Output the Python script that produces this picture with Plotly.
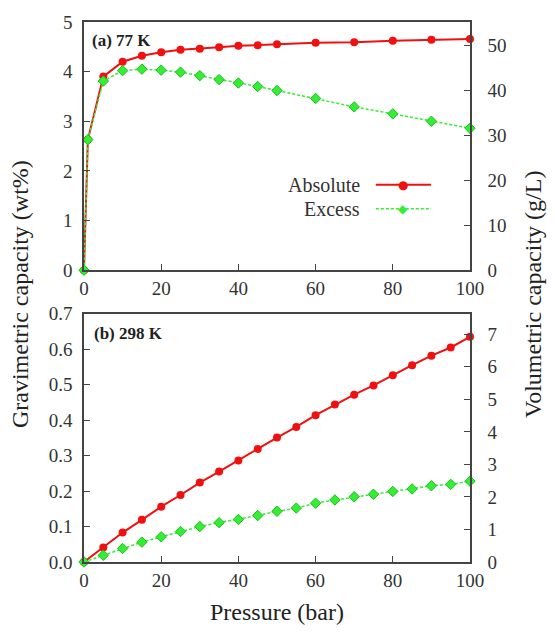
import plotly.graph_objects as go

# ---- data ----
pressure_77 = [0, 1, 5, 10, 15, 20, 25, 30, 35, 40, 45, 50, 60, 70, 80, 90, 100]
absolute_77 = [0, 2.63, 3.90, 4.20, 4.32, 4.39, 4.44, 4.46, 4.49, 4.52, 4.53, 4.55, 4.58, 4.59, 4.62, 4.64, 4.66]
excess_77 = [0, 2.63, 3.81, 4.02, 4.05, 4.03, 3.99, 3.92, 3.84, 3.77, 3.70, 3.62, 3.46, 3.29, 3.15, 3.00, 2.86]

pressure_298 = [0, 5, 10, 15, 20, 25, 30, 35, 40, 45, 50, 55, 60, 65, 70, 75, 80, 85, 90, 95, 100]
absolute_298 = [0, 0.041, 0.083, 0.119, 0.156, 0.189, 0.224, 0.255, 0.286, 0.319, 0.351,
                0.381, 0.414, 0.444, 0.472, 0.498, 0.527, 0.555, 0.582, 0.605, 0.635]
excess_298 = [0, 0.019, 0.038, 0.056, 0.071, 0.086, 0.100, 0.111, 0.120, 0.131, 0.143,
              0.152, 0.166, 0.175, 0.184, 0.191, 0.199, 0.206, 0.215, 0.219, 0.228]

series_names = ["Absolute", "Excess"]
panel_labels = ["(a) 77 K", "(b) 298 K"]

RED = "#f01010"
GREEN = "#33ee33"
GREEN_EDGE = "#22bb22"
AXC = "#444444"
FONT = "Times New Roman, Liberation Serif, serif"

fig = go.Figure()

def add_pair(x, ya, ye, xa, yax):
    fig.add_trace(go.Scatter(x=x, y=ya, mode="lines+markers", name=series_names[0],
                             line=dict(color=RED, width=2),
                             marker=dict(symbol="circle", size=8, color=RED),
                             xaxis=xa, yaxis=yax, showlegend=False, cliponaxis=False))
    fig.add_trace(go.Scatter(x=x, y=ye, mode="lines+markers", name=series_names[1],
                             line=dict(color=GREEN, width=1.5, dash="3px,2px"),
                             marker=dict(symbol="diamond", size=8, color=GREEN,
                                         line=dict(color=GREEN_EDGE, width=1)),
                             xaxis=xa, yaxis=yax, showlegend=False, cliponaxis=False))

add_pair(pressure_77, absolute_77, excess_77, "x2", "y2")
add_pair(pressure_298, absolute_298, excess_298, "x", "y")

# invisible traces to keep right axes active
fig.add_trace(go.Scatter(x=[None], y=[None], xaxis="x2", yaxis="y3", showlegend=False, hoverinfo="skip"))
fig.add_trace(go.Scatter(x=[None], y=[None], xaxis="x", yaxis="y4", showlegend=False, hoverinfo="skip"))

tickfont = dict(family=FONT, size=19, color="#333333")
common_x = dict(range=[0, 100], dtick=20, ticks="inside", ticklen=6, tickcolor=AXC,
                showline=True, linecolor=AXC, linewidth=1.5, mirror=True,
                showgrid=False, zeroline=False, tickfont=tickfont)
common_y = dict(ticks="inside", ticklen=6, tickcolor=AXC, showline=True, linecolor=AXC,
                linewidth=1.5, showgrid=False, zeroline=False, tickfont=tickfont)

top_lo = 0.5404
bot_hi = 0.4596

fig.update_layout(
    width=555, height=633,
    margin=dict(l=84, r=85, t=18, b=71),
    paper_bgcolor="white", plot_bgcolor="white",
    font=dict(family=FONT, color="#333333"),
    xaxis=dict(domain=[0, 1], anchor="y", **common_x),
    yaxis=dict(domain=[0, bot_hi], anchor="x", range=[0, 0.7], dtick=0.1, tickformat=".1f",
               ticklabelstandoff=6, **common_y),
    yaxis4=dict(overlaying="y", side="right", anchor="x", range=[0, 7.63], dtick=1,
                ticklabelstandoff=12, **common_y),
    xaxis2=dict(domain=[0, 1], anchor="y2", **common_x),
    yaxis2=dict(domain=[top_lo, 1], anchor="x2", range=[0, 5], dtick=1,
                ticklabelstandoff=6, **common_y),
    yaxis3=dict(overlaying="y2", side="right", anchor="x2", range=[0, 55.3], dtick=10,
                ticklabelstandoff=12, **common_y),
)

ann = []
title_font = dict(family=FONT, size=24, color="#222222")
ann.append(dict(text="Gravimetric capacity (wt%)", xref="paper", yref="paper", x=-0.166, y=0.496,
                textangle=-90, showarrow=False, font=title_font, xanchor="center", yanchor="middle"))
ann.append(dict(text="Volumetric capacity (g/L)", xref="paper", yref="paper", x=1.163, y=0.496,
                textangle=-90, showarrow=False, font=title_font, xanchor="center", yanchor="middle"))
ann.append(dict(text="Pressure (bar)", xref="paper", yref="paper", x=0.5, y=-0.092,
                showarrow=False, font=title_font, xanchor="center", yanchor="middle"))

lab_font = dict(family=FONT, size=17, color="#222222")
ann.append(dict(text="<b>" + panel_labels[0] + "</b>", xref="x2 domain", yref="y2 domain",
                x=0.015, y=0.924, showarrow=False, font=lab_font, xanchor="left", yanchor="middle"))
ann.append(dict(text="<b>" + panel_labels[1] + "</b>", xref="x domain", yref="y domain",
                x=0.02, y=0.92, showarrow=False, font=lab_font, xanchor="left", yanchor="middle"))

# custom legend (text left, key right)
leg_font = dict(family=FONT, size=20, color="#333333")
leg_rows = [(0.344, RED, "●", 12), (0.248, GREEN, "◆", 12)]
shapes = []
for name, (yy, col, glyph, gs) in zip(series_names, leg_rows):
    ann.append(dict(text=name, xref="x2 domain", yref="y2 domain", x=0.72, y=yy,
                    showarrow=False, font=leg_font, xanchor="right", yanchor="middle"))
    shapes.append(dict(type="line", xref="x2 domain", yref="y2 domain",
                       x0=0.756, x1=0.899, y0=yy, y1=yy,
                       line=dict(color=col, width=2 if col == RED else 1.5,
                                 dash="solid" if col == RED else "3px,2px")))
    ann.append(dict(text=glyph, xref="x2 domain", yref="y2 domain", x=0.826, y=yy,
                    showarrow=False, font=dict(family="DejaVu Sans", size=gs, color=col),
                    xanchor="center", yanchor="middle"))

fig.update_layout(annotations=ann, shapes=shapes)

fig.write_html("out.html")
